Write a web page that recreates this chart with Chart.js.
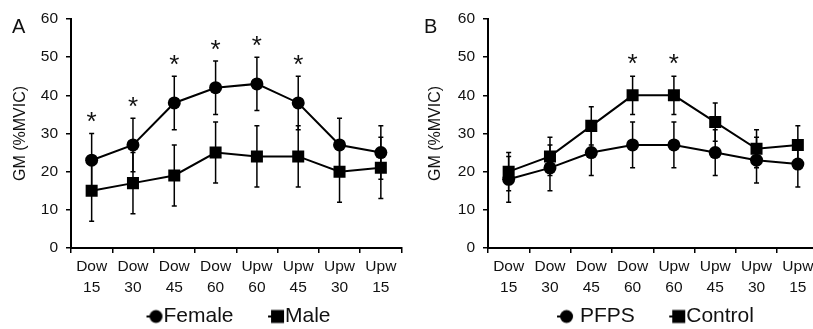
<!DOCTYPE html>
<html>
<head>
<meta charset="utf-8">
<title>GM activity</title>
<script src="https://cdn.jsdelivr.net/npm/chart.js@4.4.1/dist/chart.umd.min.js"></script>
<style>
  html, body { margin: 0; padding: 0; background: #fff; }
  #wrap { position: relative; width: 813px; height: 329px; overflow: hidden; }
  #wrap canvas { position: absolute; top: 0; }
  #chartA { left: 0; }
  #chartB { left: 410px; }
</style>
</head>
<body>
<div id="wrap">
  <canvas id="chartA" width="410" height="329"></canvas>
  <canvas id="chartB" width="417" height="329"></canvas>
</div>
<script>
// task conditions (slope + direction)
const conditions = [['Dow', '15'], ['Dow', '30'], ['Dow', '45'], ['Dow', '60'],
                    ['Upw', '60'], ['Upw', '45'], ['Upw', '30'], ['Upw', '15']];

// panel A: sex comparison
const female   = [23, 27, 38, 42, 43, 38, 27, 25];
const femaleSD = [7, 7, 7, 7, 7, 7, 7, 7];
const male     = [15, 17, 19, 25, 24, 24, 20, 21];
const maleSD   = [8, 8, 8, 8, 8, 8, 8, 8];
const sexSig   = [true, true, true, true, true, true, false, false];

// panel B: group comparison
const pfps      = [18, 21, 25, 27, 27, 25, 23, 22];
const pfpsSD    = [6, 6, 6, 6, 6, 6, 6, 6];
const control   = [20, 24, 32, 40, 40, 33, 26, 27];
const controlSD = [5, 5, 5, 5, 5, 5, 5, 5];
const groupSig  = [false, false, false, true, true, false, false, false];

const yMin = 0, yMax = 60, yStep = 10;

const FONT = "'Liberation Sans', Arial, sans-serif";
Chart.defaults.font.family = FONT;
Chart.defaults.color = '#111';

// vertical SD whiskers with small caps
const errorBars = {
  id: 'errorBars',
  afterDatasetsDraw(chart) {
    const ctx = chart.ctx;
    const y = chart.scales.y;
    chart.data.datasets.forEach((ds, di) => {
      const meta = chart.getDatasetMeta(di);
      ctx.save();
      ctx.strokeStyle = '#000';
      ctx.lineWidth = 1.5;
      meta.data.forEach((pt, i) => {
        const top = y.getPixelForValue(ds.data[i] + ds.sd[i]);
        const bot = y.getPixelForValue(ds.data[i] - ds.sd[i]);
        ctx.beginPath();
        ctx.moveTo(pt.x, top); ctx.lineTo(pt.x, bot);
        ctx.moveTo(pt.x - 2.5, top); ctx.lineTo(pt.x + 2.5, top);
        ctx.moveTo(pt.x - 2.5, bot); ctx.lineTo(pt.x + 2.5, bot);
        ctx.stroke();
      });
      ctx.restore();
    });
  }
};

// significance asterisks above the higher series
const stars = {
  id: 'stars',
  afterDatasetsDraw(chart, args, o) {
    const ctx = chart.ctx;
    const x = chart.scales.x, y = chart.scales.y;
    const size = 26;
    ctx.save();
    ctx.fillStyle = '#111';
    ctx.font = size + 'px ' + FONT;
    ctx.textAlign = 'center';
    ctx.textBaseline = 'alphabetic';
    o.flags.forEach((f, i) => {
      if (!f) return;
      const cy = y.getPixelForValue(o.base[i] + o.sd[i] + o.gap);
      ctx.fillText('*', x.getPixelForValue(i), cy + 0.56 * size);
    });
    ctx.restore();
  }
};

// panel letter in the top left corner
const panelTag = {
  id: 'panelTag',
  afterDraw(chart, args, o) {
    const ctx = chart.ctx;
    ctx.save();
    ctx.fillStyle = '#111';
    ctx.font = '20px ' + FONT;
    ctx.fillText(o.text, o.x, o.y);
    ctx.restore();
  }
};

// the x axis box is kept short so the legend sits low; stretch its
// bottom afterwards so the second line of the tick labels isn't clipped
const labelRoom = {
  id: 'labelRoom',
  afterLayout(chart) {
    chart.scales.x.bottom = chart.height;
  }
};

// legend symbol: short line stub ending in the marker, pushed against the text
function legendIcon(style) {
  const c = document.createElement('canvas');
  c.width = 50;
  c.height = 16;
  const g = c.getContext('2d');
  g.fillStyle = '#000';
  g.strokeStyle = '#000';
  g.lineWidth = 2;
  g.beginPath();
  g.moveTo(24, 8);
  g.lineTo(33.5, 8);
  g.stroke();
  if (style === 'rect') {
    g.fillRect(27, 1.5, 13, 13);
  } else {
    g.beginPath();
    g.arc(33.5, 8, 6.5, 0, Math.PI * 2);
    g.fill();
  }
  return c;
}

function series(label, data, sd, style, radius) {
  return {
    label: label,
    data: data,
    sd: sd,
    borderColor: '#000',
    backgroundColor: '#000',
    borderWidth: 2,
    tension: 0,
    pointStyle: style,
    pointRadius: radius,
    pointHoverRadius: radius,
    pointBackgroundColor: '#000',
    pointBorderWidth: 0
  };
}

function makeChart(id, datasets, opt) {
  return new Chart(document.getElementById(id), {
    type: 'line',
    data: { labels: conditions, datasets: datasets },
    plugins: [errorBars, stars, panelTag, labelRoom],
    options: {
      responsive: false,
      animation: false,
      layout: { padding: { top: 19, right: opt.padRight, bottom: 0, left: 0 } },
      plugins: {
        tooltip: { enabled: false },
        legend: {
          position: 'bottom',
          fullSize: false,
          maxHeight: 53,
          labels: {
            usePointStyle: true,
            boxWidth: 11,
            boxHeight: 11,
            color: '#111',
            font: { size: 21 },
            padding: 30,
            generateLabels(chart) {
              const items = Chart.defaults.plugins.legend.labels.generateLabels(chart);
              items.forEach((it, i) => {
                it.pointStyle = legendIcon(chart.data.datasets[i].pointStyle);
              });
              return items;
            }
          }
        },
        stars: opt.stars,
        panelTag: opt.tag
      },
      scales: {
        x: {
          offset: true,
          ticks: {
            color: '#111',
            font: { size: 15.5, lineHeight: 1.3 },
            padding: 4,
            maxRotation: 0,
            autoSkip: false
          },
          grid: { offset: true, drawOnChartArea: false, tickLength: 5, color: '#000', lineWidth: 1.5 },
          border: { color: '#000', width: 2 },
          afterFit(s) { s.height = 28; }
        },
        y: {
          min: yMin,
          max: yMax,
          ticks: { stepSize: yStep, color: '#111', font: { size: 15.5 }, padding: 8 },
          grid: { drawOnChartArea: false, tickLength: 5, color: '#000', lineWidth: 1.5 },
          border: { color: '#000', width: 2 },
          title: {
            display: true,
            text: 'GM (%MVIC)',
            color: '#111',
            font: { size: 16 },
            padding: { top: opt.titlePad, bottom: 0 }
          },
          afterFit(s) { s.width = opt.axisWidth; }
        }
      }
    }
  });
}

makeChart('chartA', [
  series('Female', female, femaleSD, 'circle', 6.5),
  series('Male', male, maleSD, 'rect', 8.5)
], {
  padRight: 8,
  axisWidth: 71,
  titlePad: 11,
  stars: { flags: sexSig, base: female, sd: femaleSD, gap: 4.7 },
  tag: { text: 'A', x: 12, y: 27.5 }
});

makeChart('chartB', [
  series(' PFPS', pfps, pfpsSD, 'circle', 6.5),
  series('Control', control, controlSD, 'rect', 8.5)
], {
  padRight: 0,
  axisWidth: 78,
  titlePad: 16,
  stars: { flags: groupSig, base: control, sd: controlSD, gap: 5 },
  tag: { text: 'B', x: 14, y: 27.5 }
});
</script>
</body>
</html>
